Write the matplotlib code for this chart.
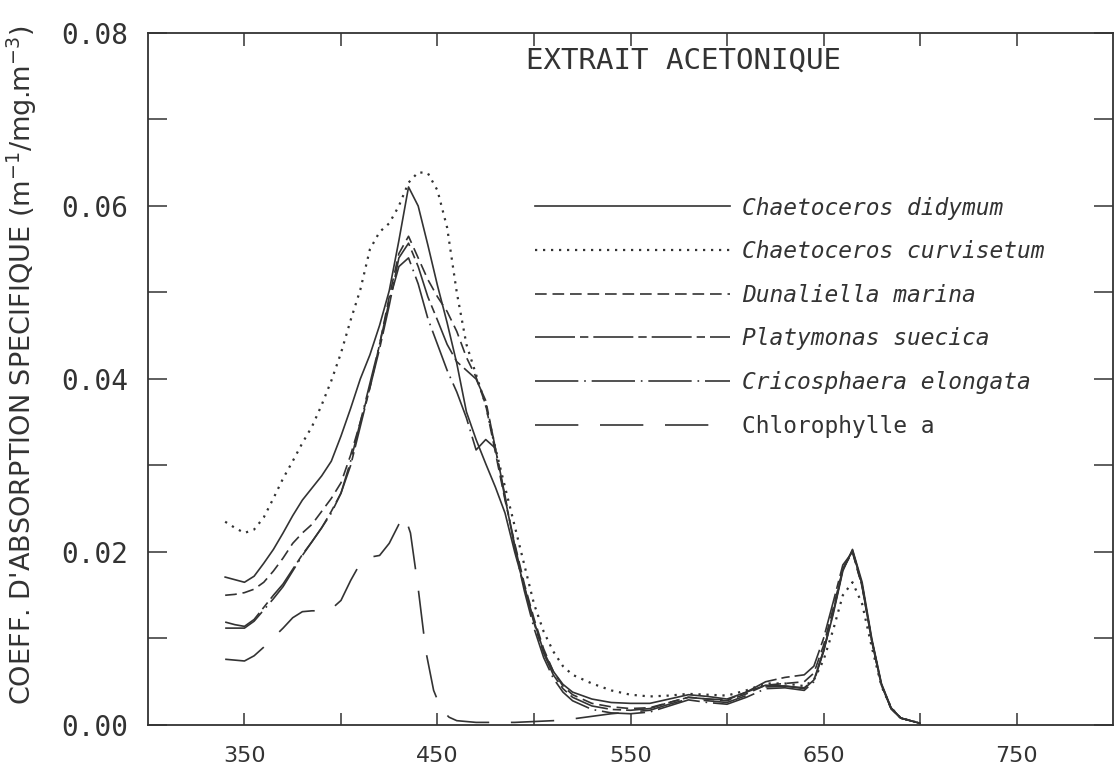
import matplotlib
matplotlib.use('Agg')
import matplotlib.pyplot as plt

# wavelength grid (nm) shared by the five species
wavelength = [340, 345, 350, 355, 360, 365, 370, 375, 380, 385, 390, 395, 400, 405,
              410, 415, 420, 425, 430, 435, 440, 445, 450, 455, 460, 465, 470, 475,
              480, 485, 490, 495, 500, 505, 510, 515, 520, 530, 540, 550, 560, 570,
              580, 590, 600, 610, 620, 630, 640, 645, 650, 655, 660, 665, 670, 675,
              680, 685, 690, 700]

didymum = [0.0171, 0.0168, 0.0165, 0.0172, 0.0187, 0.0203, 0.0222, 0.0242, 0.0260, 0.0274,
           0.0288, 0.0305, 0.0334, 0.0366, 0.0400, 0.0428, 0.0462, 0.0502, 0.0560, 0.0622,
           0.0600, 0.0555, 0.0508, 0.0465, 0.0418, 0.0362, 0.0330, 0.0302, 0.0275, 0.0245,
           0.0200, 0.0160, 0.0120, 0.0085, 0.0062, 0.0047, 0.0038, 0.0030, 0.0026, 0.0025,
           0.0025, 0.0030, 0.0035, 0.0033, 0.0030, 0.0038, 0.0046, 0.0045, 0.0042, 0.0052,
           0.0085, 0.0128, 0.0178, 0.0203, 0.0165, 0.0100, 0.0048, 0.0020, 0.0008, 0.0002]

curvisetum = [0.0235, 0.0228, 0.0222, 0.0226, 0.0240, 0.0262, 0.0285, 0.0305, 0.0326, 0.0345,
              0.0370, 0.0398, 0.0430, 0.0468, 0.0503, 0.0550, 0.0570, 0.0580, 0.0600, 0.0627,
              0.0639, 0.0638, 0.0618, 0.0575, 0.0500, 0.0440, 0.0405, 0.0370, 0.0320, 0.0275,
              0.0230, 0.0185, 0.0140, 0.0108, 0.0085, 0.0068, 0.0058, 0.0048, 0.0040, 0.0035,
              0.0033, 0.0034, 0.0036, 0.0035, 0.0034, 0.0040, 0.0048, 0.0048, 0.0045, 0.0052,
              0.0075, 0.0110, 0.0150, 0.0165, 0.0140, 0.0090, 0.0045, 0.0020, 0.0008, 0.0002]

dunaliella = [0.0150, 0.0151, 0.0153, 0.0157, 0.0165, 0.0178, 0.0193, 0.0210, 0.0222, 0.0232,
              0.0247, 0.0262, 0.0280, 0.0312, 0.0350, 0.0390, 0.0440, 0.0495, 0.0545, 0.0565,
              0.0540, 0.0515, 0.0495, 0.0478, 0.0455, 0.0425, 0.0402, 0.0370, 0.0315, 0.0260,
              0.0210, 0.0163, 0.0123, 0.0088, 0.0062, 0.0045, 0.0035, 0.0025, 0.0021, 0.0019,
              0.0020, 0.0026, 0.0032, 0.0030, 0.0028, 0.0036, 0.0046, 0.0048, 0.0050, 0.0060,
              0.0092, 0.0135, 0.0180, 0.0200, 0.0160, 0.0097, 0.0046, 0.0019, 0.0008, 0.0002]

platymonas = [0.0119, 0.0116, 0.0114, 0.0122, 0.0136, 0.0150, 0.0163, 0.0180, 0.0197, 0.0212,
              0.0228, 0.0247, 0.0268, 0.0300, 0.0345, 0.0390, 0.0435, 0.0485, 0.0540, 0.0557,
              0.0530, 0.0495, 0.0468, 0.0440, 0.0420, 0.0410, 0.0400, 0.0375, 0.0320, 0.0262,
              0.0208, 0.0160, 0.0118, 0.0083, 0.0058, 0.0042, 0.0032, 0.0022, 0.0018, 0.0017,
              0.0019, 0.0026, 0.0032, 0.0030, 0.0029, 0.0038, 0.0050, 0.0055, 0.0058, 0.0068,
              0.0100, 0.0142, 0.0185, 0.0200, 0.0160, 0.0097, 0.0046, 0.0019, 0.0008, 0.0002]

cricosphaera = [0.0112, 0.0112, 0.0112, 0.0120, 0.0133, 0.0146, 0.0160, 0.0178, 0.0196, 0.0212,
                0.0228, 0.0245, 0.0268, 0.0305, 0.0350, 0.0395, 0.0440, 0.0490, 0.0530, 0.0540,
                0.0510, 0.0470, 0.0440, 0.0410, 0.0385, 0.0355, 0.0318, 0.0330, 0.0320, 0.0265,
                0.0205, 0.0155, 0.0112, 0.0078, 0.0054, 0.0038, 0.0028, 0.0018, 0.0014, 0.0013,
                0.0015, 0.0022, 0.0029, 0.0026, 0.0024, 0.0032, 0.0042, 0.0043, 0.0040, 0.0050,
                0.0085, 0.0130, 0.0180, 0.0202, 0.0162, 0.0098, 0.0047, 0.0019, 0.0008, 0.0002]

# chlorophylle a has its own grid (sharp drop after the blue peak)
wl_chl = [340, 345, 350, 355, 360, 365, 370, 375, 380, 385, 390, 395, 400, 405, 410, 415,
          420, 425, 430, 433, 436, 440, 444, 448, 452, 456, 460, 470, 480, 490, 500, 510,
          520, 530, 540, 550, 560, 570, 580, 590, 600, 610, 620, 630, 640, 645, 650, 655,
          660, 665, 670, 675, 680, 685, 690, 700]
chl_a = [0.0076, 0.0075, 0.0074, 0.0080, 0.0090, 0.0101, 0.0112, 0.0124, 0.0131, 0.0132,
         0.0132, 0.0134, 0.0144, 0.0167, 0.0187, 0.0194, 0.0196, 0.0210, 0.0232, 0.0242,
         0.0222, 0.0158, 0.0085, 0.0040, 0.0018, 0.0009, 0.0005, 0.0003, 0.0003, 0.0003,
         0.0004, 0.0005, 0.0007, 0.0010, 0.0013, 0.0015, 0.0017, 0.0024, 0.0030, 0.0028,
         0.0026, 0.0034, 0.0044, 0.0045, 0.0043, 0.0052, 0.0086, 0.0130, 0.0180, 0.0202,
         0.0162, 0.0098, 0.0047, 0.0019, 0.0008, 0.0002]

x_ticks = [350, 450, 550, 650, 750]
x_minor = [400, 500, 600, 700]
x_labels = ['350', '450', '550', '650', '750']
y_ticks = [0.00, 0.02, 0.04, 0.06, 0.08]
y_minor = [0.01, 0.03, 0.05, 0.07]
y_labels = ['0.00', '0.02', '0.04', '0.06', '0.08']

ink = '#333333'
mono = 'DejaVu Sans Mono'

fig = plt.figure(figsize=(11.2, 7.82), dpi=100)
ax = fig.add_axes([0.1321, 0.0729, 0.8617, 0.8849])

ax.plot(wavelength, didymum, color=ink, lw=1.2, ls='-', label='Chaetoceros didymum')
ax.plot(wavelength, curvisetum, color=ink, lw=1.6, ls=(0, (1, 2.6)), label='Chaetoceros curvisetum')
ax.plot(wavelength, dunaliella, color=ink, lw=1.2, ls=(0, (7, 3.5)), label='Dunaliella marina')
ax.plot(wavelength, platymonas, color=ink, lw=1.2, ls=(0, (24, 3, 5, 3)), label='Platymonas suecica')
ax.plot(wavelength, cricosphaera, color=ink, lw=1.2, ls=(0, (26, 3.5, 1, 3.5)), label='Cricosphaera elongata')
ax.plot(wl_chl, chl_a, color=ink, lw=1.2, ls=(0, (26, 13)), label='Chlorophylle a')

ax.set_xlim(300, 800)
ax.set_ylim(0, 0.08)
ax.set_xticks(x_ticks)
ax.set_xticks(x_minor, minor=True)
ax.set_xticklabels(x_labels, fontsize=16, color=ink)
ax.set_yticks(y_ticks)
ax.set_yticks(y_minor, minor=True)
ax.set_yticklabels(y_labels, fontsize=20, family=mono, color=ink)

ax.tick_params(axis='x', which='both', direction='in', top=True, length=9, width=1.1,
               color=ink, pad=15)
ax.tick_params(axis='y', which='both', direction='in', right=True, length=14, width=1.1,
               color=ink, pad=14)
for s in ax.spines.values():
    s.set_linewidth(1.3)
    s.set_color(ink)

ax.set_ylabel("COEFF. D'ABSORPTION SPECIFIQUE (m$^{-1}$/mg.m$^{-3}$)",
              fontsize=19.5, color=ink)
ax.yaxis.set_label_coords(-0.113, 0.52)

ax.text(496, 0.0768, 'EXTRAIT ACETONIQUE', family=mono, fontsize=21, color=ink, va='center')

leg = ax.legend(loc='upper left', bbox_to_anchor=(0.401, 0.7637), frameon=False,
                handlelength=8.5, handletextpad=0.55, labelspacing=0.9,
                borderpad=0, borderaxespad=0,
                prop={'family': mono, 'style': 'oblique', 'size': 16.5})
for t in leg.get_texts():
    t.set_color(ink)
leg.get_texts()[-1].set_fontstyle('normal')

fig.savefig('out.png', dpi=100, facecolor='white')
